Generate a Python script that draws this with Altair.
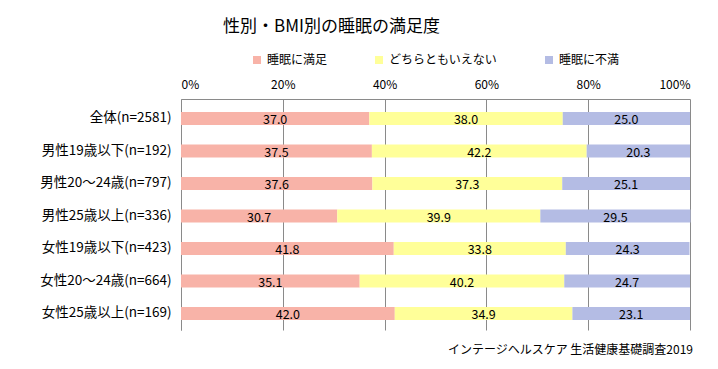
import altair as alt
import pandas as pd

groups = ["全体(n=2581)", "男性19歳以下(n=192)", "男性20～24歳(n=797)", "男性25歳以上(n=336)",
          "女性19歳以下(n=423)", "女性20～24歳(n=664)", "女性25歳以上(n=169)"]
cats = ["睡眠に満足", "どちらともいえない", "睡眠に不満"]
satisfied = [37.0, 37.5, 37.6, 30.7, 41.8, 35.1, 42.0]
neutral = [38.0, 42.2, 37.3, 39.9, 33.8, 40.2, 34.9]
dissatisfied = [25.0, 20.3, 25.1, 29.5, 24.3, 24.7, 23.1]
colors = ["#F8B3A8", "#FFFF99", "#B4BCE4"]
ticks = [0, 20, 40, 60, 80, 100]
title_text = "性別・BMI別の睡眠の満足度"
footer_text = "インテージヘルスケア 生活健康基礎調査2019"

rows = []
for i, g in enumerate(groups):
    for j, (c, vals) in enumerate(zip(cats, [satisfied, neutral, dissatisfied])):
        rows.append({"group": g, "cat": c, "ord": j, "value": vals[i]})
df = pd.DataFrame(rows)

FONT = "Noto Sans CJK JP"

yenc = alt.Y("group:N", sort=groups,
             scale=alt.Scale(paddingInner=0.6, paddingOuter=0.354, align=0.565),
             axis=alt.Axis(title=None, ticks=False, domainColor="#8a8a8a", labelPadding=10,
                           labelFontSize=13.5, labelColor="#000000", labelFont=FONT, labelLimit=300))

base = alt.Chart(df)

bars = base.mark_bar().encode(
    y=yenc,
    x=alt.X("value:Q", stack="zero", scale=alt.Scale(domain=[0, 100], nice=False),
            axis=alt.Axis(orient="top", values=ticks, labelExpr="datum.value + '%'",
                          title=None, tickSize=0, grid=True, gridColor="#8a8a8a",
                          domainColor="#8a8a8a", labelPadding=8, labelFontSize=12,
                          labelColor="#000000", labelFont=FONT)),
    color=alt.Color("cat:N", sort=cats, scale=alt.Scale(domain=cats, range=colors),
                    legend=alt.Legend(title=None, orient="none", legendX=70, legendY=-45,
                                      direction="horizontal", symbolType="square",
                                      symbolSize=64, symbolStrokeWidth=0, labelFontSize=12,
                                      labelFont=FONT, labelColor="#000000", columnPadding=45,
                                      symbolOffset=0, labelOffset=4)),
    order=alt.Order("ord:Q", sort="ascending"),
)

text = base.transform_stack(
    stack="value", groupby=["group"], sort=[alt.SortField("ord", order="ascending")],
    as_=["v0", "v1"]
).transform_calculate(mid="(datum.v0 + datum.v1) / 2").mark_text(
    fontSize=12.5, dy=2, color="#000000", font=FONT
).encode(
    y=alt.Y("group:N", sort=groups),
    x=alt.X("mid:Q"),
    text=alt.Text("value:Q", format=".1f"),
)

footer = alt.Chart(pd.DataFrame({"t": [footer_text]})).mark_text(
    align="right", baseline="middle", fontSize=12, font=FONT, color="#000000"
).encode(x=alt.value(512), y=alt.value(251), text="t:N")

chart = alt.layer(bars, text, footer).properties(
    width=509, height=231,
    title=alt.TitleParams(title_text, anchor="start", frame="group", dx=42, fontSize=17,
                          fontWeight="normal", font=FONT, color="#000000", offset=18),
    padding={"left": 173, "top": 91, "right": 20, "bottom": 31},
    autosize="none",
    background="white",
).configure_view(stroke=None)

chart.save("out.html", embed_options={"renderer": "svg", "actions": False})
